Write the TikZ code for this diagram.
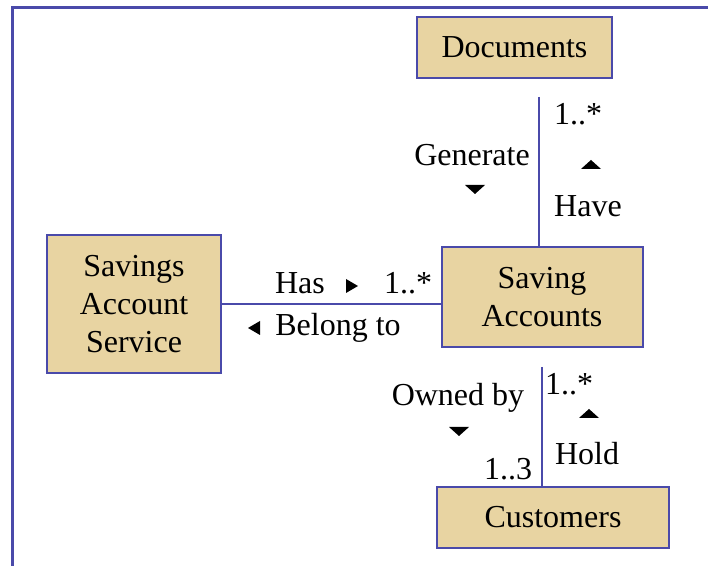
\documentclass[tikz,border=0pt]{standalone}
\usepackage{fontspec}
\setmainfont{Liberation Serif}
\definecolor{papyrus}{RGB}{232,212,162}
\definecolor{edge}{RGB}{74,74,170}
\tikzset{
	entity/.style={draw=edge,line width=1pt,fill=papyrus,align=center,inner sep=0pt,font=\fontsize{16}{19}\selectfont},
	link/.style={draw=edge,line width=0.7pt},
	tag/.style={inner sep=0pt,font=\fontsize{16}{19}\selectfont},
	tridown/.pic={\fill (-10,-4)--(10,-4)--(0,5)--cycle;},
	triright/.pic={\fill (-6,-7)--(-6,7)--(6,0)--cycle;}
}
\begin{document}
\begin{tikzpicture}[x=0.5pt,y=-0.5pt]
	\useasboundingbox (0,0) rectangle (708,566);
	\draw[edge,line width=1.5pt] (12,566)--(12,8)--(708,8);
	\node[entity,minimum width=97.5pt,minimum height=30.5pt] (docs) at (514.5,47.5) {Documents};
	\node[entity,minimum width=100.5pt,minimum height=50pt] (acct) at (542,297) {Saving\\Accounts};
	\node[entity,minimum width=87pt,minimum height=69pt] (svc) at (134,304) {Savings\\Account\\Service};
	\node[entity,minimum width=116pt,minimum height=30.5pt] (cust) at (553,517.5) {Customers};
	\path (539,97) coordinate (D1)
		(542,367) coordinate (C1);
	\draw[link] (D1)--(D1|-acct.north);
	\draw[link] (svc.east)--(svc.east-|acct.west);
	\draw[link] (C1)--(C1|-cust.north);
	\foreach \x/\y/\t [count=\i] in {578/114/{1..*},472/155/Generate,588/206/Have,
		300/283/Has,408/283/{1..*},338/328/Belong to,
		458/398/Owned by,569/384/{1..*},587/454/Hold,508/469/{1..3}}{
		\node[tag] (lbl\i) at (\x,\y) {\t};
	}
	\foreach \x/\y/\r in {475/189/0,591/165/180,459/431/0,589/414/180}{
		\pic[rotate=\r] at (\x,\y) {tridown};
	}
	\foreach \x/\y/\r in {352/286/0,254/328/180}{
		\pic[rotate=\r] at (\x,\y) {triright};
	}
\end{tikzpicture}
\end{document}
